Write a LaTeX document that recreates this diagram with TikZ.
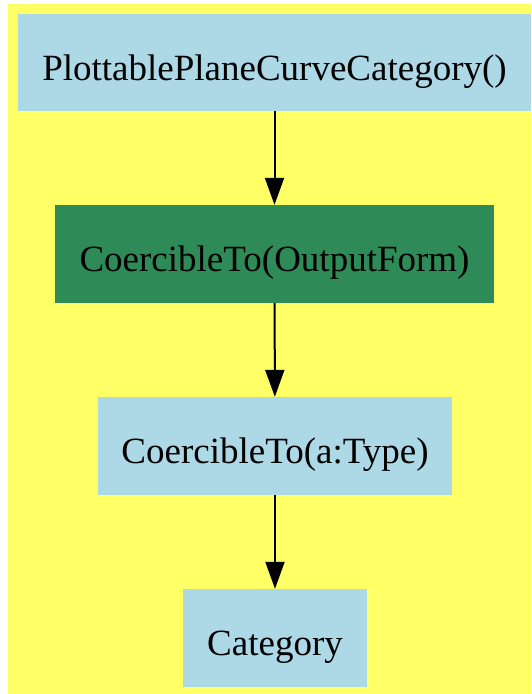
\documentclass[tikz,border=0pt]{standalone}
\usepackage{fontspec}
\setmainfont{Liberation Serif}
\usetikzlibrary{arrows.meta}

\begin{document}
\begin{tikzpicture}[x=1pt,y=-1pt,
    catbox/.style={fill=lightblue, inner sep=0pt, text height=35pt, text depth=0pt, font=\fontsize{37}{44}\selectfont},
    edge/.style={line width=2pt, -{Triangle[length=27pt,width=19pt]}}]
  \definecolor{lightblue}{RGB}{173,216,230}
  \definecolor{seagreen}{RGB}{46,139,87}
  \definecolor{bgyellow}{RGB}{255,255,102}
  \useasboundingbox (0,0) rectangle (531,694);
  \fill[bgyellow] (8,4) rectangle (531,694);
  % categories
  \node[catbox, minimum width=513pt, minimum height=97pt] (plot) at (274.5,62.5) {PlottablePlaneCurveCategory()};
  \node[catbox, fill=seagreen, minimum width=439pt, minimum height=98pt] (coerceout) at (274.5,254) {CoercibleTo(OutputForm)};
  \node[catbox, minimum width=354pt, minimum height=98pt] (coercetype) at (275,446) {CoercibleTo(a:Type)};
  \node[catbox, minimum width=184pt, minimum height=98pt] (cat) at (275,638) {Category};
  % edges
  \draw[edge] (plot) -- (coerceout);
  \draw[edge] (coerceout) -- (coercetype);
  \draw[edge] (coercetype) -- (cat);
\end{tikzpicture}
\end{document}
